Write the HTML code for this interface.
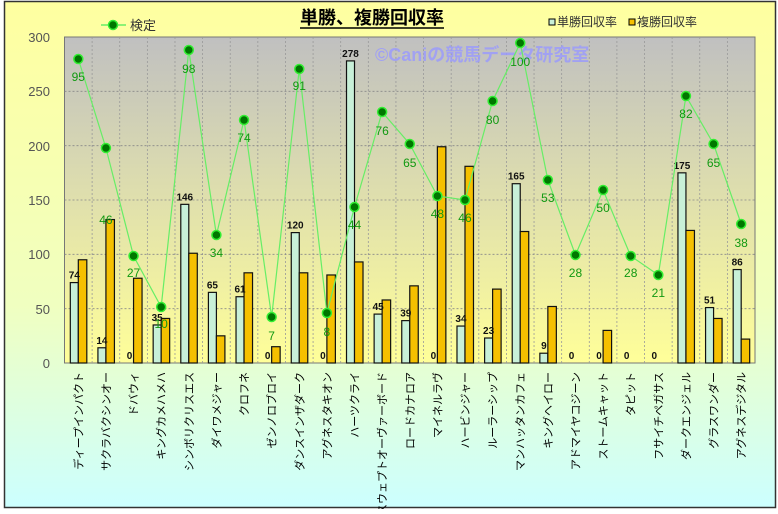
<!DOCTYPE html>
<html><head><meta charset="utf-8"><style>
body{margin:0;width:778px;height:509px;overflow:hidden;font-family:"Liberation Sans","Noto Sans CJK JP",sans-serif}
</style></head><body>
<svg width="778" height="509" xmlns="http://www.w3.org/2000/svg" font-family="Liberation Sans, Noto Sans CJK JP, sans-serif">
<defs>
<linearGradient id="bg" x1="0" y1="0" x2="0" y2="1"><stop offset="0" stop-color="#ffffa0"/><stop offset="0.6" stop-color="#f0ffc0"/><stop offset="1" stop-color="#ccffff"/></linearGradient>
<linearGradient id="pl" x1="0" y1="0" x2="0" y2="1"><stop offset="0" stop-color="#c0c0c0"/><stop offset="1" stop-color="#ffff99"/></linearGradient>
</defs>
<rect x="0" y="0" width="778" height="509" fill="#fff"/>
<rect x="4.5" y="1.5" width="771" height="506" fill="url(#bg)" stroke="#333" stroke-width="1.5"/>
<rect x="64.5" y="37" width="690.5" height="326" fill="url(#pl)" stroke="#777"/>
<g id="grid"></g>
<g id="bars"></g>
<text x="375" y="61" font-size="18" font-weight="bold" fill="#9999ff" opacity="0.8">©Caniの競馬データ研究室</text>
<g id="line"></g>
<g font-size="13" fill="#555" text-anchor="end">
<text x="50" y="42">300</text><text x="50" y="96">250</text><text x="50" y="151">200</text><text x="50" y="205">150</text><text x="50" y="259">100</text><text x="50" y="314">50</text><text x="50" y="368">0</text>
</g>
<text x="300" y="24" font-size="18" font-weight="bold" fill="#000">単勝、複勝回収率</text>
<line x1="300" y1="28" x2="444" y2="28" stroke="#000" stroke-width="1.5"/>
<line x1="101" y1="25" x2="126" y2="25" stroke="#66ee66" stroke-width="1.5"/>
<circle cx="113" cy="25" r="4.5" fill="#007700" stroke="#33ee33" stroke-width="1.5"/>
<text x="130" y="30" font-size="13" fill="#333">検定</text>
<rect x="549" y="19" width="6" height="6" fill="#c8f0d8" stroke="#000"/>
<text x="557" y="26" font-size="12" fill="#333">単勝回収率</text>
<rect x="629" y="19" width="6" height="6" fill="#f5c000" stroke="#000"/>
<text x="637" y="26" font-size="12" fill="#333">複勝回収率</text>
<g id="xl" font-size="11" fill="#000"></g>
</svg>
<script>
const names=["ディープインパクト","サクラバクシンオー","ドバウィ","キングカメハメハ","シンボリクリスエス","ダイワメジャー","クロフネ","ゼンノロブロイ","ダンスインザダーク","アグネスタキオン","ハーツクライ","スウェプトオーヴァーボード","ロードカナロア","マイネルラヴ","ハービンジャー","ルーラーシップ","マンハッタンカフェ","キングヘイロー","アドマイヤコジーン","ストームキャット","タピット","フサイチペガサス","ダークエンジェル","グラスワンダー","アグネスデジタル"];
const tan=[74,14,0,35,146,65,61,0,120,0,278,45,39,0,34,23,165,9,0,0,0,0,175,51,86];
const fk=[95,132,78,41,101,25,83,15,83,81,93,58,71,199,181,68,121,52,0,30,0,0,122,41,22];
const py=[59,148,256,307,50,235,120,317,69,313,207,112,144,196,200,101,43,180,255,190,256,275,96,144,224];
const lv=[95,46,27,10,98,34,74,7,91,8,44,76,65,48,46,80,100,53,28,50,28,21,82,65,38];
const ly=[76,219,272,323,68,252,137,335,85,331,224,130,162,213,217,119,61,197,272,207,272,292,113,162,242];
const NS="http://www.w3.org/2000/svg";
function el(p,t,a,txt){const e=document.createElementNS(NS,t);for(const k in a)e.setAttribute(k,a[k]);if(txt!==undefined)e.textContent=txt;document.getElementById(p).appendChild(e);return e;}
const x0=64.5,w=27.62,Y=v=>363-v*326/300;
for(let i=1;i<25;i++)el("grid","line",{x1:x0+i*w,y1:37,x2:x0+i*w,y2:363,stroke:"#999","stroke-dasharray":"2,2","stroke-width":0.8});
for(let v=50;v<300;v+=50)el("grid","line",{x1:x0,y1:Y(v),x2:755,y2:Y(v),stroke:"#888","stroke-dasharray":"2,2","stroke-width":0.8});
let pts=[];
for(let i=0;i<25;i++){
 const c=x0+w*i+w/2;
 if(tan[i]>0)el("bars","rect",{x:c-8,y:Y(tan[i]),width:8,height:363-Y(tan[i]),fill:"#c8f0d8",stroke:"#111","stroke-width":1.2});
 if(fk[i]>0)el("bars","rect",{x:c,y:Y(fk[i]),width:8.5,height:363-Y(fk[i]),fill:"#f5c000",stroke:"#111","stroke-width":1.2});
 el("bars","text",{x:c-4,y:Y(tan[i])-4,"font-size":10,"font-weight":"bold","text-anchor":"middle",fill:"#111"},tan[i]);
 pts.push(c+","+py[i]);
 el("xl","text",{x:0,y:0,"text-anchor":"end",transform:`translate(${c+4},372) rotate(-90)`},names[i]);
}
el("line","polyline",{points:pts.join(" "),fill:"none",stroke:"#66ee66","stroke-width":1.2});
for(let i=0;i<25;i++){const c=x0+w*i+w/2;
 el("line","circle",{cx:c,cy:py[i],r:4.5,fill:"#007700",stroke:"#33ee33","stroke-width":1.5});
 el("line","text",{x:c,y:ly[i]+5,"font-size":12,"text-anchor":"middle",fill:"#119911"},lv[i]);}
</script>
</body></html>
